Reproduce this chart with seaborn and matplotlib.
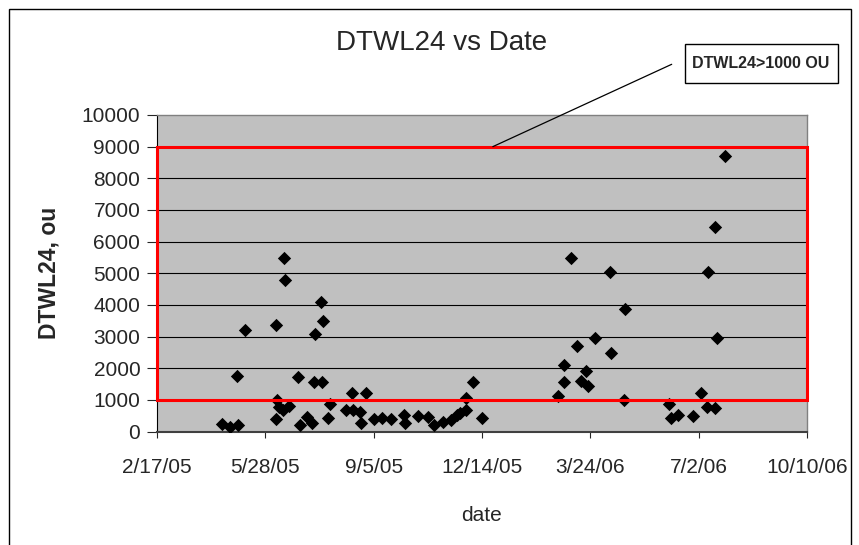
import pandas as pd
import seaborn as sns
from matplotlib import pyplot as plt
from matplotlib.patches import Rectangle

# DTWL24 readings
dates = [
    "2005-04-18", "2005-04-25", "2005-05-03", "2005-05-02", "2005-05-09",
    "2005-06-07", "2005-06-07", "2005-06-08", "2005-06-10", "2005-06-14",
    "2005-06-15", "2005-06-13", "2005-06-19", "2005-06-27", "2005-06-29",
    "2005-07-05", "2005-07-10", "2005-07-12", "2005-07-19", "2005-07-13",
    "2005-07-20", "2005-07-18", "2005-07-25", "2005-07-27", "2005-08-10",
    "2005-08-16", "2005-08-17", "2005-08-23", "2005-08-24", "2005-08-29",
    "2005-09-05", "2005-09-13", "2005-09-21", "2005-10-03", "2005-10-04",
    "2005-10-16", "2005-10-25", "2005-10-31", "2005-11-08", "2005-11-15",
    "2005-11-21", "2005-11-24", "2005-11-29", "2005-11-29", "2005-12-06",
    "2005-12-14", "2006-02-22", "2006-02-28", "2006-02-28", "2006-03-06",
    "2006-03-12", "2006-03-15", "2006-03-20", "2006-03-22", "2006-03-28",
    "2006-04-11", "2006-04-12", "2006-04-24", "2006-04-25", "2006-06-05",
    "2006-06-06", "2006-06-13", "2006-06-27", "2006-07-04", "2006-07-10",
    "2006-07-11", "2006-07-17", "2006-07-17", "2006-07-19", "2006-07-26",
]
dtwl24 = [
    250, 150, 220, 1750, 3200,
    3350, 400, 980, 780, 5480,
    4800, 680, 800, 1720, 220,
    460, 270, 1550, 1550, 3080,
    3500, 4100, 420, 870, 680,
    1220, 680, 620, 280, 1220,
    380, 440, 380, 510, 270,
    490, 460, 220, 300, 350,
    510, 570, 680, 1050, 1550,
    440, 1110, 1550, 2100, 5480,
    2700, 1600, 1920, 1430, 2950,
    5030, 2470, 980, 3860, 870,
    440, 510, 490, 1220, 780,
    5030, 750, 6450, 2950, 8700,
]

x_ticks = ["2005-02-17", "2005-05-28", "2005-09-05", "2005-12-14",
           "2006-03-24", "2006-07-02", "2006-10-10"]
x_tick_labels = ["2/17/05", "5/28/05", "9/5/05", "12/14/05", "3/24/06", "7/2/06", "10/10/06"]
y_ticks = list(range(0, 10001, 1000))

# highlighted region and its note
zone_low, zone_high = 1000, 9000
zone_note = "DTWL24>1000 OU"
note_anchor = "2005-12-24"


def main() -> None:
    df = pd.DataFrame({"date": pd.to_datetime(dates), "DTWL24": dtwl24})

    sns.set_style("white")
    plt.rcParams["font.family"] = ["Liberation Sans", "DejaVu Sans"]

    W, H = 859, 545
    fig = plt.figure(figsize=(W / 100, H / 100), dpi=100)
    ax = fig.add_axes([157 / W, 1 - 431.5 / H, 650 / W, 316.5 / H])
    ax.set_facecolor("#C0C0C0")

    xt = pd.to_datetime(x_ticks)

    for v in y_ticks[1:-1]:
        ax.axhline(v, color="black", lw=0.8, zorder=1)

    sns.scatterplot(data=df, x="date", y="DTWL24", marker="D", color="black",
                    s=46, linewidth=0, ax=ax, zorder=4, legend=False)

    ax.set_xlim(xt[0], xt[-1])
    ax.set_ylim(0, 10000)
    ax.set_xticks(xt)
    ax.set_xticklabels(x_tick_labels)
    ax.set_yticks(y_ticks)
    ax.set_yticklabels([str(v) for v in y_ticks])
    ax.tick_params(axis="x", length=4, width=0.8, pad=15, labelsize=15, direction="out", bottom=True)
    ax.tick_params(axis="y", length=7, width=0.8, pad=5, labelsize=15, direction="out", left=True)

    for side in ("top", "right"):
        ax.spines[side].set_color("#808080")
        ax.spines[side].set_linewidth(1.0)
    ax.spines["left"].set_color("black")
    ax.spines["left"].set_linewidth(0.8)
    ax.spines["bottom"].set_color("#404040")
    ax.spines["bottom"].set_linewidth(1.5)

    ax.set_xlabel("date", fontsize=15, labelpad=21)
    ax.set_ylabel("DTWL24, ou", fontsize=16.5, fontweight="bold", labelpad=15)

    # red box marking the high region
    x0 = xt[0]
    zone = Rectangle((x0, zone_low), xt[-1] - x0, zone_high - zone_low,
                     fill=False, edgecolor="#FF0000", lw=2.2, zorder=5, clip_on=False)
    ax.add_patch(zone)

    ax.annotate("", xy=(pd.Timestamp(note_anchor), zone_high), xycoords="data",
                xytext=(671.7 / W, 1 - 64.3 / H), textcoords="figure fraction",
                arrowprops=dict(arrowstyle="-", color="black", lw=0.9,
                                shrinkA=0, shrinkB=0),
                annotation_clip=False, zorder=6)

    fig.patches.append(Rectangle((685 / W, 1 - 83 / H), 153 / W, 39 / H, transform=fig.transFigure,
                                 fill=False, edgecolor="black", lw=1.0))
    fig.text(692 / W, 1 - 63.5 / H, zone_note, fontsize=11.5, fontweight="bold",
             ha="left", va="center")

    fig.text(441.7 / W, 1 - 42.7 / H, "DTWL24 vs Date", fontsize=20, ha="center", va="center")

    # outer chart frame
    fig.patches.append(Rectangle((9 / W, -0.05), 842 / W, (H - 9) / H + 0.05,
                                 transform=fig.transFigure, fill=False,
                                 edgecolor="black", lw=1.0))

    fig.savefig("out.png", dpi=100)


if __name__ == "__main__":
    main()
